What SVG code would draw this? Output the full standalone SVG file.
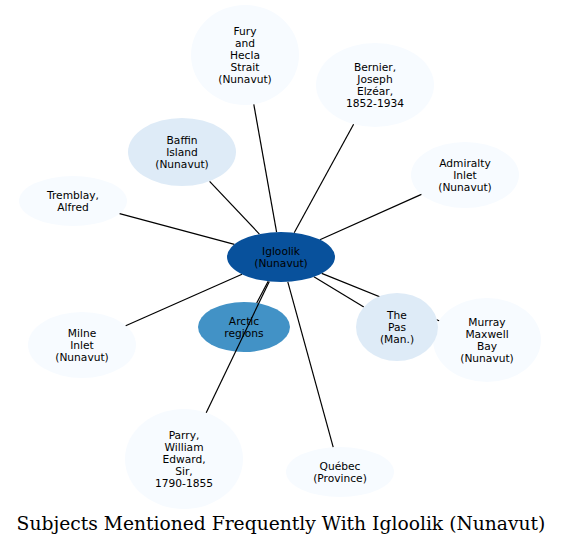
<svg xmlns="http://www.w3.org/2000/svg" width="563" height="546" viewBox="0 0 563 546">
<style>
.n text{font-family:"DejaVu Sans",sans-serif;font-size:10.67px;text-anchor:middle;fill:#000}
.e line{stroke:#000;stroke-width:1.2}
.l{fill:#f7fbff}
.m{fill:#deebf7}
</style>
<rect width="563" height="546" fill="#fff"/>
<g id="n-fury" class="n"><ellipse class="l" cx="245" cy="55" rx="54" ry="50"/><text x="245" y="34.5"><tspan x="245">Fury</tspan><tspan x="245" dy="12">and</tspan><tspan x="245" dy="12">Hecla</tspan><tspan x="245" dy="12">Strait</tspan><tspan x="245" dy="12">(Nunavut)</tspan></text></g>
<g id="n-bernier" class="n"><ellipse class="l" cx="375" cy="85" rx="59" ry="42"/><text x="375" y="70.5"><tspan x="375">Bernier,</tspan><tspan x="375" dy="12">Joseph</tspan><tspan x="375" dy="12">Elzéar,</tspan><tspan x="375" dy="12">1852-1934</tspan></text></g>
<g id="n-baffin" class="n"><ellipse class="m" cx="182" cy="152" rx="54" ry="34"/><text x="182" y="143.5"><tspan x="182">Baffin</tspan><tspan x="182" dy="12">Island</tspan><tspan x="182" dy="12">(Nunavut)</tspan></text></g>
<g id="n-tremblay" class="n"><ellipse class="l" cx="73" cy="201" rx="54" ry="25"/><text x="73" y="198.5"><tspan x="73">Tremblay,</tspan><tspan x="73" dy="12">Alfred</tspan></text></g>
<g id="n-admiralty" class="n"><ellipse class="l" cx="465" cy="175" rx="54" ry="33"/><text x="465" y="166.5"><tspan x="465">Admiralty</tspan><tspan x="465" dy="12">Inlet</tspan><tspan x="465" dy="12">(Nunavut)</tspan></text></g>
<g id="n-milne" class="n"><ellipse class="l" cx="82" cy="345" rx="54" ry="33"/><text x="82" y="336.5"><tspan x="82">Milne</tspan><tspan x="82" dy="12">Inlet</tspan><tspan x="82" dy="12">(Nunavut)</tspan></text></g>
<g id="n-arctic" class="n"><ellipse cx="244" cy="327" rx="46" ry="25" fill="#4292c6"/><text x="244" y="324.5"><tspan x="244">Arctic</tspan><tspan x="244" dy="12">regions</tspan></text></g>
<g id="n-murray" class="n"><ellipse class="l" cx="487" cy="340" rx="54" ry="42"/><text x="487" y="325.5"><tspan x="487">Murray</tspan><tspan x="487" dy="12">Maxwell</tspan><tspan x="487" dy="12">Bay</tspan><tspan x="487" dy="12">(Nunavut)</tspan></text></g>
<g id="n-parry" class="n"><ellipse class="l" cx="184" cy="459" rx="59" ry="50"/><text x="184" y="438.5"><tspan x="184">Parry,</tspan><tspan x="184" dy="12">William</tspan><tspan x="184" dy="12">Edward,</tspan><tspan x="184" dy="12">Sir,</tspan><tspan x="184" dy="12">1790-1855</tspan></text></g>
<g id="n-quebec" class="n"><ellipse class="l" cx="340" cy="472" rx="54" ry="25"/><text x="340" y="469.5"><tspan x="340">Québec</tspan><tspan x="340" dy="12">(Province)</tspan></text></g>
<g id="edges" class="e">
<line x1="276.6" y1="232.1" x2="253.8" y2="104.4"/>
<line x1="294.2" y1="232.8" x2="353.6" y2="124.2"/>
<line x1="259.4" y1="234.1" x2="209.6" y2="181.3"/>
<line x1="234.4" y1="244.4" x2="119.6" y2="213.6"/>
<line x1="319.9" y1="239.7" x2="421.4" y2="194.4"/>
<line x1="242" y1="274.3" x2="125.7" y2="325.7"/>
<line x1="268.2" y1="281.3" x2="256.7" y2="303"/>
<line x1="269.3" y1="281.4" x2="206.2" y2="412.7"/>
<line x1="287.8" y1="281.8" x2="333.2" y2="447.2"/>
<line x1="313.9" y1="276.8" x2="363.8" y2="307"/>
<line x1="321.7" y1="273.4" x2="439.1" y2="320.7"/>
</g>
<g id="n-thepas" class="n"><ellipse class="m" cx="397" cy="327" rx="41" ry="34"/><text x="397" y="318.5"><tspan x="397">The</tspan><tspan x="397" dy="12">Pas</tspan><tspan x="397" dy="12">(Man.)</tspan></text></g>
<g id="n-igloolik" class="n"><ellipse cx="281" cy="257" rx="54" ry="25" fill="#08519c"/><text x="281" y="254.5"><tspan x="281">Igloolik</tspan><tspan x="281" dy="12">(Nunavut)</tspan></text></g>
<text x="281" y="530" font-family="'DejaVu Serif',serif" font-size="18.7" text-anchor="middle" fill="#000">Subjects Mentioned Frequently With Igloolik (Nunavut)</text>
</svg>
